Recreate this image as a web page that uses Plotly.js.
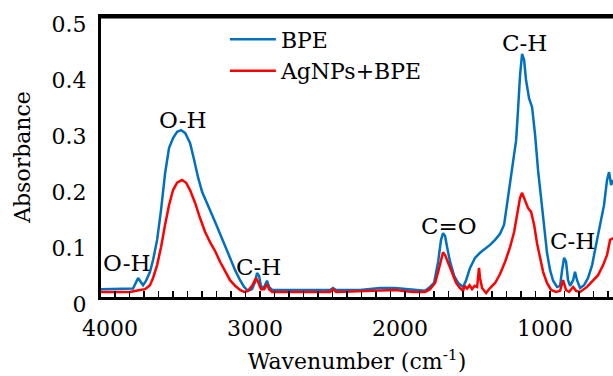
<!DOCTYPE html>
<html>
<head>
<meta charset="utf-8">
<script src="https://cdn.plot.ly/plotly-3.0.1.min.js"></script>
<style>
html,body{margin:0;padding:0;background:#fff;}
#chart{width:613px;height:376px;}
</style>
</head>
<body>
<div id="chart"></div>
<script>
// Wavenumbers (cm-1) and absorbance
const bpeWavenumber = [4097,4000,3931,3876,3841,3821,3807,3786,3759,3738,3710,3683,3655,3628,3600,3572,3545,3517,3483,3455,3428,3400,3372,3345,3310,3276,3241,3207,3172,3138,3110,3083,3055,3034,3021,3007,2993,2972,2952,2938,2917,2724,2517,2497,2476,2310,2172,2069,1945,1862,1828,1800,1772,1752,1738,1724,1710,1690,1662,1634,1600,1579,1552,1517,1483,1448,1414,1379,1345,1317,1297,1276,1255,1234,1221,1207,1193,1179,1166,1145,1124,1103,1083,1062,1041,1021,1000,979,952,931,917,903,890,876,862,841,828,814,793,766,738,710,683,655,628,607,593,579,566];
const bpeAbsorbance = [0.014,0.014,0.014,0.015,0.034,0.026,0.021,0.029,0.045,0.066,0.102,0.155,0.221,0.266,0.284,0.295,0.298,0.293,0.275,0.245,0.214,0.188,0.170,0.155,0.134,0.113,0.089,0.070,0.048,0.030,0.018,0.011,0.014,0.027,0.043,0.038,0.018,0.018,0.029,0.018,0.0125,0.0125,0.0125,0.016,0.0125,0.0125,0.016,0.016,0.0125,0.011,0.018,0.025,0.063,0.102,0.114,0.109,0.089,0.063,0.038,0.025,0.018,0.030,0.052,0.070,0.079,0.086,0.093,0.102,0.113,0.129,0.164,0.209,0.241,0.280,0.334,0.396,0.434,0.423,0.388,0.355,0.339,0.289,0.227,0.173,0.120,0.079,0.048,0.029,0.018,0.020,0.048,0.070,0.063,0.030,0.020,0.030,0.045,0.030,0.016,0.021,0.034,0.057,0.093,0.129,0.164,0.209,0.223,0.200,0.209];

const agWavenumber = [4097,3897,3828,3793,3759,3738,3710,3683,3655,3628,3600,3572,3538,3510,3483,3448,3414,3379,3345,3310,3276,3241,3207,3172,3138,3110,3083,3055,3028,3014,2993,2972,2952,2938,2917,2517,2497,2476,2172,2069,1945,1862,1828,1793,1772,1752,1738,1724,1703,1676,1648,1621,1600,1590,1572,1555,1538,1520,1503,1490,1483,1469,1441,1414,1379,1345,1310,1276,1248,1228,1207,1193,1172,1152,1131,1110,1090,1069,1048,1021,993,959,931,910,890,869,841,821,793,745,703,669,634,607,586,566];
const agAbsorbance = [0.009,0.009,0.0125,0.014,0.021,0.034,0.057,0.089,0.129,0.164,0.191,0.204,0.209,0.204,0.191,0.168,0.141,0.116,0.098,0.082,0.063,0.045,0.030,0.020,0.0125,0.009,0.011,0.020,0.034,0.027,0.014,0.014,0.023,0.014,0.009,0.009,0.014,0.009,0.0125,0.0125,0.009,0.009,0.014,0.025,0.045,0.066,0.080,0.075,0.061,0.041,0.025,0.016,0.011,0.020,0.015,0.021,0.014,0.020,0.018,0.052,0.034,0.016,0.007,0.016,0.025,0.041,0.063,0.089,0.116,0.146,0.177,0.186,0.173,0.159,0.152,0.129,0.096,0.070,0.045,0.025,0.0125,0.009,0.011,0.030,0.0125,0.009,0.018,0.011,0.009,0.018,0.030,0.039,0.057,0.075,0.102,0.105];

const seriesNames = ["BPE", "AgNPs+BPE"];
const xTickValues = [4000, 3000, 2000, 1000];
const yTickValues = [0, 0.1, 0.2, 0.3, 0.4, 0.5];
const yTickText = ["0", "0.1", "0.2", "0.3", "0.4", "0.5"];

// Peak labels: text and where they sit (wavenumber, absorbance)
const peakLabels = ["O-H", "O-H", "C-H", "C=O", "C-H", "C-H"];
const peakLabelX = [3917, 3531, 3014, 1697, 1179, 848];
const peakLabelY = [0.061, 0.316, 0.054, 0.127, 0.454, 0.100];

const FONT = "DejaVu Serif";
const FS = 22;

const traces = [
  {x: bpeWavenumber, y: bpeAbsorbance, name: seriesNames[0], type: "scatter", mode: "lines",
   line: {color: "#0070C0", width: 2.5}},
  {x: agWavenumber, y: agAbsorbance, name: seriesNames[1], type: "scatter", mode: "lines",
   line: {color: "#FF0000", width: 2.5}}
];

const annotations = peakLabels.map((t, i) => ({
  x: peakLabelX[i], y: peakLabelY[i], xref: "x", yref: "y", text: t, showarrow: false,
  xanchor: "center", yanchor: "middle", font: {family: FONT, size: 23, color: "#000"}
}));

const layout = {
  width: 613, height: 376,
  margin: {l: 101, r: 0, t: 17, b: 79, pad: 0, autoexpand: false},
  paper_bgcolor: "#fff", plot_bgcolor: "#fff",
  font: {family: FONT, size: FS, color: "#000"},
  showlegend: true,
  legend: {x: 0.242, y: 0.995, xanchor: "left", yanchor: "top", bgcolor: "rgba(0,0,0,0)",
           font: {family: FONT, size: FS, color: "#000"}, tracegroupgap: 0, itemwidth: 46},
  xaxis: {
    range: [4097, 566], showgrid: false, zeroline: false, automargin: false,
    showline: true, linecolor: "#000", linewidth: 3, mirror: true,
    tickmode: "array", tickvals: xTickValues, ticktext: xTickValues.map(String),
    ticks: "inside", ticklen: 6, tickwidth: 1.5, tickcolor: "#000",
    minor: {dtick: 100, ticks: "inside", ticklen: 6, tickwidth: 1.5, tickcolor: "#000", showgrid: false},
    tickfont: {family: FONT, size: FS, color: "#000"},
    ticklabelstandoff: 10, ticklabelshift: 5,
    title: {text: "Wavenumber (cm<sup>-1</sup>)", font: {family: FONT, size: FS, color: "#000"}, standoff: 14}
  },
  yaxis: {
    range: [0, 0.5], showgrid: false, zeroline: false, automargin: false,
    showline: true, linecolor: "#000", linewidth: 3, mirror: false,
    tickmode: "array", tickvals: yTickValues, ticktext: yTickText,
    ticks: "", tickfont: {family: FONT, size: FS, color: "#000"},
    ticklabelstandoff: 7, ticklabelshift: 7,
    title: {text: "Absorbance", font: {family: FONT, size: FS, color: "#000"}, standoff: 15}
  },
  shapes: [
    {type: "line", xref: "paper", yref: "paper", x0: 0, x1: 1, y0: 1, y1: 1,
     line: {color: "#000", width: 3}}
  ],
  annotations: annotations
};

Plotly.newPlot("chart", traces, layout, {displayModeBar: false, staticPlot: true});
</script>
</body>
</html>
